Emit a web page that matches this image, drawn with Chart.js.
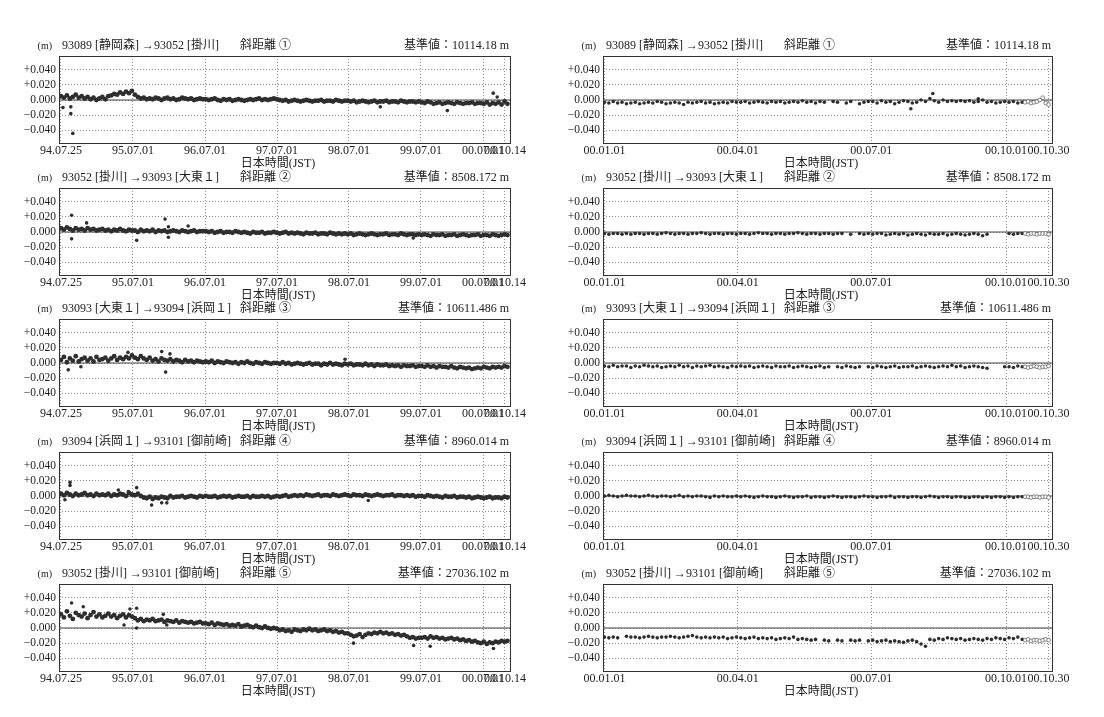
<!DOCTYPE html>
<html>
<head>
<meta charset="utf-8">
<script src="https://cdn.jsdelivr.net/npm/chart.js@4"></script>
<style>
  body { margin: 0; background: #fff; width: 1104px; height: 717px; position: relative; overflow: hidden; }
  canvas { position: absolute; }
</style>
</head>
<body>
<script>
// values in mm (axis labels are shown in m)
const LEFT_STEP = 15;      // days between samples, 94.07 - 00.10
const RIGHT_STEP = 3;      // days between samples, 00.01 - 00.10
const PRELIM_START = 287;  // open circles (preliminary) in right panels
const PRELIM_STEP = 2;

const leftTickDays = [0, 365, 731, 1096, 1461, 1826, 2141, 2252];
const leftTickLabels = ["94.07.25", "95.07.01", "96.07.01", "97.07.01", "98.07.01", "99.07.01", "00.07.01", "00.10.14"];
const rightTickDays = [0, 91, 182, 274, 303];
const rightTickLabels = ["00.01.01", "00.04.01", "00.07.01", "00.10.01", "00.10.30"];
const yTicks = [-40, -20, 0, 20, 40];

const routes = [
  "93089 [静岡森] →93052 [掛川]",
  "93052 [掛川] →93093 [大東１]",
  "93093 [大東１] →93094 [浜岡１]",
  "93094 [浜岡１] →93101 [御前崎]",
  "93052 [掛川] →93101 [御前崎]",
];
const circled = ["①", "②", "③", "④", "⑤"];
const baseValues = ["10114.18", "8508.172", "10611.486", "8960.014", "27036.102"];

// ---- left column: 94.07.25 - 00.10.14 ----
const l1Vals = [5, 3, 6, 2, 4, 7, 3, 5, 2, 4, 1, 3, 0, 2, 4, 1, 5,
  6, 8, 7, 10, 8, 11, 9, 12, 7, 4, 2, 3, 1,
  2, 1, 3, 2, 0, 2, 3, 1, 2, 0, 1, 3, 2, 1, 2, 0, 1, 2, 1,
  1, 0, 1, 2, 0, -1, 1, 0, 1, -1, 0, 1, 0, -1, 0, 1, 0, 1, 2, 0, 1, 0, 1, 2,
  1, 0, -1, 0, -2, -1, 0, -1, -2, -1, 0, -1, -2, -1, -1, 0, -2, -1, -1, -2, 0, -1, -2, -1,
  -1, -2, -1, -3, -2, -1, -2, -3, -2, -1, -3, -2, -2, -1, -3, -2, -2, -3, -1, -2, -3, -2, -2, -3, -2,
  -3, -4, -2, -3, -5, -4, -3, -5, -4, -3, -4, -5, -3, -4, -5, -4, -4, -3, -5, -4, -4,
  -5, -3, -6, -4, -5, -3, -6, -2, -5];
const l1Out = [[10, -10], [50, -9], [50, -18], [60, -44], [1620, -9], [1960, -14], [2193, 9], [2213, 4]];

const l2Vals = [5, 3, 6, 4, 2, 5, 3, 4, 2, 5, 3, 4, 2, 3, 4, 2, 3, 1, 3, 2, 4, 2, 1, 3, 2,
  2, 0, 3, 1, 2, 1, 3, 0, 2, 1, 2, 0, 1, 2, 1, 0, 2, 1, 0, 1, 2, 0, 1, 1,
  1, 0, 1, -1, 0, 1, -1, 0, 0, -1, 1, 0, -1, 0, -1, -2, 0, -1, -1, 0, -2, -1, -1, 0,
  -1, -2, -1, 0, -2, -1, -2, -1, -2, -3, -1, -2, -2, -1, -3, -2, -2, -3, -1, -2, -3, -2, -3, -2,
  -3, -2, -4, -3, -2, -3, -4, -3, -2, -3, -4, -3, -3, -2, -4, -3, -3, -4, -2, -3, -4, -3, -3, -4, -3,
  -4, -3, -4, -5, -3, -4, -4, -3, -5, -4, -4, -3, -5, -4, -3, -4, -5, -4, -4, -3, -5, -4, -4, -5, -3, -4, -5, -4, -3, -4];
const l2Out = [[54, 22], [130, 12], [528, 17], [545, 7], [545, -7], [384, -11], [54, -9], [645, 8], [1787, -8]];

const l3Vals = [4, 8, 1, 6, 3, 9, 2, 5, 7, 3, 6, 2, 8, 4, 5, 7, 3, 6, 9, 4, 7, 5, 8, 6, 10,
  7, 5, 9, 6, 4, 7, 3, 5, 2, 6, 4, 3, 5, 2, 4, 3, 1, 4, 2, 3, 1, 3, 2, 1,
  2, 1, 3, 0, 2, 1, 0, 2, 1, 0, 1, -1, 1, 0, 2, 0, -1, 1, 0, -1, 1, 0, -1, 0,
  0, -1, 1, -1, 0, -2, -1, 0, -1, -2, -1, 0, -2, -1, -1, -3, -1, -2, 0, -2, -1, -2, -3, -1,
  -2, -1, -3, -2, -2, -3, -1, -3, -2, -4, -2, -3, -3, -2, -4, -3, -4, -3, -5, -3, -4, -4, -3, -5, -4,
  -4, -5, -3, -5, -4, -6, -4, -5, -5, -6, -4, -6, -7, -5, -6, -7, -6, -8, -7, -6, -7, -5, -6, -7, -5, -6, -5, -6, -4, -5];
const l3Out = [[511, 15], [553, 12], [531, -12], [37, -9], [101, -5], [1441, 5], [340, 14]];

const l4Vals = [3, 1, 4, 2, 0, 3, 1, 2, 4, 1, 2, 0, 3, 1, 2, 1, 3, 0, 2, 1, 3, 2, 0, 4, 2,
  1, 3, 0, -2, -3, -1, -4, -2, -3, -1, -2, -3, 0, -2, -1, -1, 0, -2, -1, 0, -1, -2, 0, -1,
  0, -1, -1, 0, -2, -1, 0, -1, 0, -2, -1, 0, -1, -1, 0, -2, 0, -1, -1, 0, -1, 0, -2, -1,
  0, -1, 0, 1, -1, 0, 1, 0, 1, 0, 2, 1, 0, 1, 2, 0, 1, 1, 0, 2, 1, 0, 1, 2,
  1, 0, 2, 1, 1, 0, 2, 1, 0, 1, 2, 1, 0, 1, 1, 2, 0, 1, 1, 0, 1, 0, 1, -1, 0,
  0, -1, 1, 0, -1, 0, -1, -2, 0, -1, -1, 0, -2, -1, -1, -2, -1, -3, -2, -1, -2, -3, -2, -1, -3, -2, -2, -3, -1, -2];
const l4Out = [[46, 18], [46, 14], [291, 8], [342, 6], [384, 11], [460, -12], [511, -9], [537, -9], [1559, -6], [20, -5]];

const l5Vals = [18, 14, 22, 16, 12, 20, 17, 15, 19, 13, 17, 21, 15, 18, 14, 16, 19, 15, 17, 13, 16, 18, 14, 17, 15,
  13, 10, 12, 9, 11, 10, 12, 9, 10, 11, 8, 10, 9, 8, 10, 7, 9, 8, 7, 8, 6, 7, 8, 6,
  6, 5, 7, 4, 6, 5, 4, 5, 3, 4, 3, 5, 2, 3, 4, 2, 1, 3, 1, 0, 2, 0, -1, 0,
  -1, -3, -2, -4, -3, -5, -2, -3, -4, -2, -3, -1, -3, -2, -4, -3, -2, -4, -3, -5, -4, -6, -5, -7,
  -7, -9, -11, -10, -8, -12, -9, -7, -8, -6, -7, -5, -7, -6, -8, -7, -9, -8, -10, -9, -11, -13, -12, -14, -13,
  -13, -12, -14, -11, -13, -12, -14, -13, -15, -14, -13, -15, -14, -16, -15, -17, -16, -18, -17, -19, -20, -18, -21, -19, -20, -18, -19, -17, -18, -17];
const l5Out = [[54, 33], [113, 28], [350, 25], [384, 26], [320, 4], [384, 0], [519, 18], [537, 4], [1484, -20], [1789, -23], [1873, -24], [2194, -27]];

// ---- right column: 00.01.01 - 00.10.30 ----
const r1Vals = [-3, -4, -2, -4, -3, -5, -4, -3, -5, -4, -3, -4, -2, -3, -5, -4, -3, -4, -6, -3, -4, -3, -2, -4, -3, -5, -4, -3, -4, -2, -3,
  -3, -2, -4, -3, -2, -3, -4, -2, -3, -2, -4, -3, -2, -3, -1, -3, -2, -4, -2, -3, null, -2, -3, null, -4, -2, null, -5, -3, -2,
  -2, -4, -1, -3, -2, -5, -3, -1, -2, -4, -3, 0, -2, 2, -1, -3, 0, -2, -1, -2, -1, -2, -1, -3, -2, 0, -3, -2, -4, -3, -2,
  -3, -2, -4, -3];
const r1Prelim = [-3, -2, -4, -3, -2, 0, 3, -4, -6];
const r1Out = [[224, 8.5], [209, -11.5], [255, 1.5]];

const r2Vals = [-2, -3, -2, -2, -3, -2, -3, -2, -2, -3, -2, -2, -3, -2, -1, -2, -3, -2, -2, -3, -2, -2, -1, -2, -3, -2, -2, -3, -2, -2, -3,
  -2, -2, -3, -2, -1, -2, -2, -3, -2, -2, -3, -2, -2, -1, -2, -3, -2, -2, -3, -2, -2, -3, -2, -2, null, -3, null, -2, -3, -2,
  -3, -2, -2, -4, -3, -2, -3, -2, -4, -3, -2, -3, -4, -2, -3, -3, -2, -4, -3, -2, -3, -4, -3, -2, -3, -5, -3, null, null, null, null,
  -2, -3, -2, -2];
const r2Prelim = [-2, -3, -2, -2, -3, -2, -2, -2, -3];
const r2Out = [];

const r3Vals = [-4, -5, -3, -5, -4, -4, -6, -4, -5, -3, -4, -5, -4, -6, -5, -4, -5, -3, -5, -4, -6, -4, -5, -4, -3, -5, -4, -5, -6, -4, -5,
  -4, -5, -4, -6, -5, -4, -5, -6, -4, -5, -5, -4, -6, -5, -4, -5, -6, -5, -4, -6, -5, null, -5, -6, -4, -5, -6, -5, null, -5,
  -6, -4, -5, -6, -5, -4, -6, -5, -5, -4, -6, -5, -4, -5, -6, -5, -4, -5, -3, -5, -4, -6, -5, -4, -5, -6, -7, null, null, null, -5,
  -5, -6, -4, -5];
const r3Prelim = [-5, -6, -5, -4, -5, -6, -5, -5, -4];
const r3Out = [];

const r4Vals = [0, 1, 0, -1, 0, 1, 0, 0, -1, 0, 1, 0, -1, 0, 0, -1, 0, 1, -1, 0, -1, 0, 0, -1, -2, 0, -1, 0, -1, -1, 0,
  -1, 0, -1, -2, -1, 0, -1, -1, -2, -1, 0, -1, -2, -1, -1, 0, -2, -1, -1, -2, -1, 0, -1, -2, -1, -1, -2, -1, 0, -1,
  -1, -2, -1, -1, 0, -2, -1, -1, -2, -1, -1, -2, -1, 0, -1, -2, -1, -1, -2, -1, -1, -2, -2, -1, -1, -2, -1, -2, -1, -1, -2,
  -1, -2, -1, -1];
const r4Prelim = [-1, -1, -2, -1, -1, -2, -1, -1, -2];
const r4Out = [];

const r5Vals = [-12, -13, -12, -13, null, -11, -12, -12, -13, -12, -11, -12, -13, -12, -12, -11, -12, -13, -12, -11, -10, -12, -13, -12, -13, -12, -13, -12, -14, -13, -12,
  -13, -14, -13, -12, -14, -13, -14, -13, -15, -14, -13, -14, -12, -15, -14, -15, -16, -15, null, -16, -17, null, -16, -17, null, -16, -17, -16, null, -17,
  -16, -18, -17, -16, -18, -17, -18, -19, -17, -16, -18, -21, -24, -15, -16, -14, -15, -13, -14, -15, -14, -16, -15, -14, -15, -16, -14, -15, -13, -14, -15,
  -13, -14, -12, -15];
const r5Prelim = [-16, -15, -17, -16, -16, -17, -16, -15, -16];
const r5Out = [];

const leftData = [[l1Vals, l1Out], [l2Vals, l2Out], [l3Vals, l3Out], [l4Vals, l4Out], [l5Vals, l5Out]];
const rightData = [[r1Vals, r1Out, r1Prelim], [r2Vals, r2Out, r2Prelim], [r3Vals, r3Out, r3Prelim], [r4Vals, r4Out, r4Prelim], [r5Vals, r5Out, r5Prelim]];

const FONT = '"Liberation Serif", "Noto Sans CJK JP", serif';
const INK = "#222";
const DOT = "#2e2e2e";
const GRID = "#8c8c8c";
const ROW_ZERO = [100, 232, 363, 496, 628];

function toPoints(vals, start, step) {
  const out = [];
  vals.forEach((v, i) => {
    if (v !== null) out.push({ x: start + i * step, y: v });
  });
  return out;
}

function fmtY(v) {
  if (v > 0) return "+" + (v / 1000).toFixed(3);
  if (v < 0) return "−" + (-v / 1000).toFixed(3);
  return "0.000";
}

const panelText = {
  id: "panelText",
  afterDraw(chart, args, opts) {
    const { ctx, chartArea: a } = chart;
    ctx.save();
    ctx.strokeStyle = "#333";
    ctx.lineWidth = 1;
    ctx.strokeRect(a.left + 0.5, a.top + 0.5, a.right - a.left - 1, a.bottom - a.top - 1);
    ctx.fillStyle = INK;
    ctx.textBaseline = "middle";
    const ty = a.top - 10;
    ctx.font = "10px " + FONT;
    ctx.textAlign = "right";
    ctx.fillText("(m)", a.left - 7, ty);
    ctx.font = "12px " + FONT;
    ctx.textAlign = "left";
    ctx.fillText(opts.route, a.left + 3, ty);
    ctx.fillText("斜距離 " + opts.num, a.left + 181, ty);
    ctx.textAlign = "right";
    ctx.fillText("基準値：" + opts.base + " m", a.right - 2, ty);
    ctx.textAlign = "center";
    ctx.fillText("日本時間(JST)", (a.left + a.right) / 2 - 7, a.bottom + 20);
    ctx.restore();
  },
};

function addPanel(isLeft, row, vals, outliers, prelim) {
  const w = 540, h = 136;
  const cv = document.createElement("canvas");
  cv.width = w;
  cv.height = h;
  cv.style.left = (isLeft ? 0 : 545) + "px";
  cv.style.top = ROW_ZERO[row] - 64 + "px";
  document.body.appendChild(cv);

  const xMin = isLeft ? -10 : -1;
  const xMax = isLeft ? 2283 : 306;
  const tickDays = isLeft ? leftTickDays : rightTickDays;
  const tickLabels = isLeft ? leftTickLabels : rightTickLabels;
  const r = isLeft ? 2.4 : 1.8;
  const dot = { pointRadius: r, pointHoverRadius: r, backgroundColor: DOT, borderWidth: 0, order: 1 };

  const datasets = [
    { data: toPoints(vals, 0, isLeft ? LEFT_STEP : RIGHT_STEP), ...dot },
    { data: outliers.map(([x, y]) => ({ x, y })), ...dot, pointRadius: 1.8 },
    { data: [{ x: xMin, y: 0 }, { x: xMax, y: 0 }], showLine: true, borderColor: "#444", borderWidth: 1, pointRadius: 0, order: 5 },
  ];
  if (prelim) {
    datasets.push({
      data: toPoints(prelim, PRELIM_START, PRELIM_STEP),
      pointRadius: 1.9, backgroundColor: "#fff", borderColor: "#666", borderWidth: 0.8, order: 0,
    });
  }

  new Chart(cv, {
    type: "scatter",
    data: { datasets },
    options: {
      responsive: false,
      animation: false,
      devicePixelRatio: 1,
      layout: { padding: { top: 20, right: isLeft ? 29 : 32, left: 0, bottom: 0 } },
      plugins: {
        legend: { display: false },
        tooltip: { enabled: false },
        panelText: { route: routes[row], num: circled[row], base: baseValues[row] },
      },
      scales: {
        x: {
          type: "linear",
          min: xMin,
          max: xMax,
          afterBuildTicks: (s) => { s.ticks = tickDays.map((v) => ({ value: v })); },
          afterFit: (s) => { s.height = 28; },
          ticks: {
            autoSkip: false, maxRotation: 0, padding: 0, color: INK,
            font: { family: FONT, size: 12 },
            callback: (v, i) => tickLabels[i],
          },
          grid: { color: GRID, lineWidth: 1, drawTicks: false },
          border: { display: false, dash: [1, 2] },
        },
        y: {
          min: -58,
          max: 58,
          afterBuildTicks: (s) => { s.ticks = yTicks.map((v) => ({ value: v })); },
          afterFit: (s) => { s.width = isLeft ? 59 : 58; },
          ticks: { padding: 3, color: INK, font: { family: FONT, size: 11.5 }, callback: (v) => fmtY(v) },
          grid: { color: GRID, lineWidth: 1, drawTicks: false },
          border: { display: false, dash: [1, 2] },
        },
      },
    },
    plugins: [panelText],
  });
}

leftData.forEach(([v, o], r) => addPanel(true, r, v, o, null));
rightData.forEach(([v, o, p], r) => addPanel(false, r, v, o, p));
</script>
</body>
</html>
